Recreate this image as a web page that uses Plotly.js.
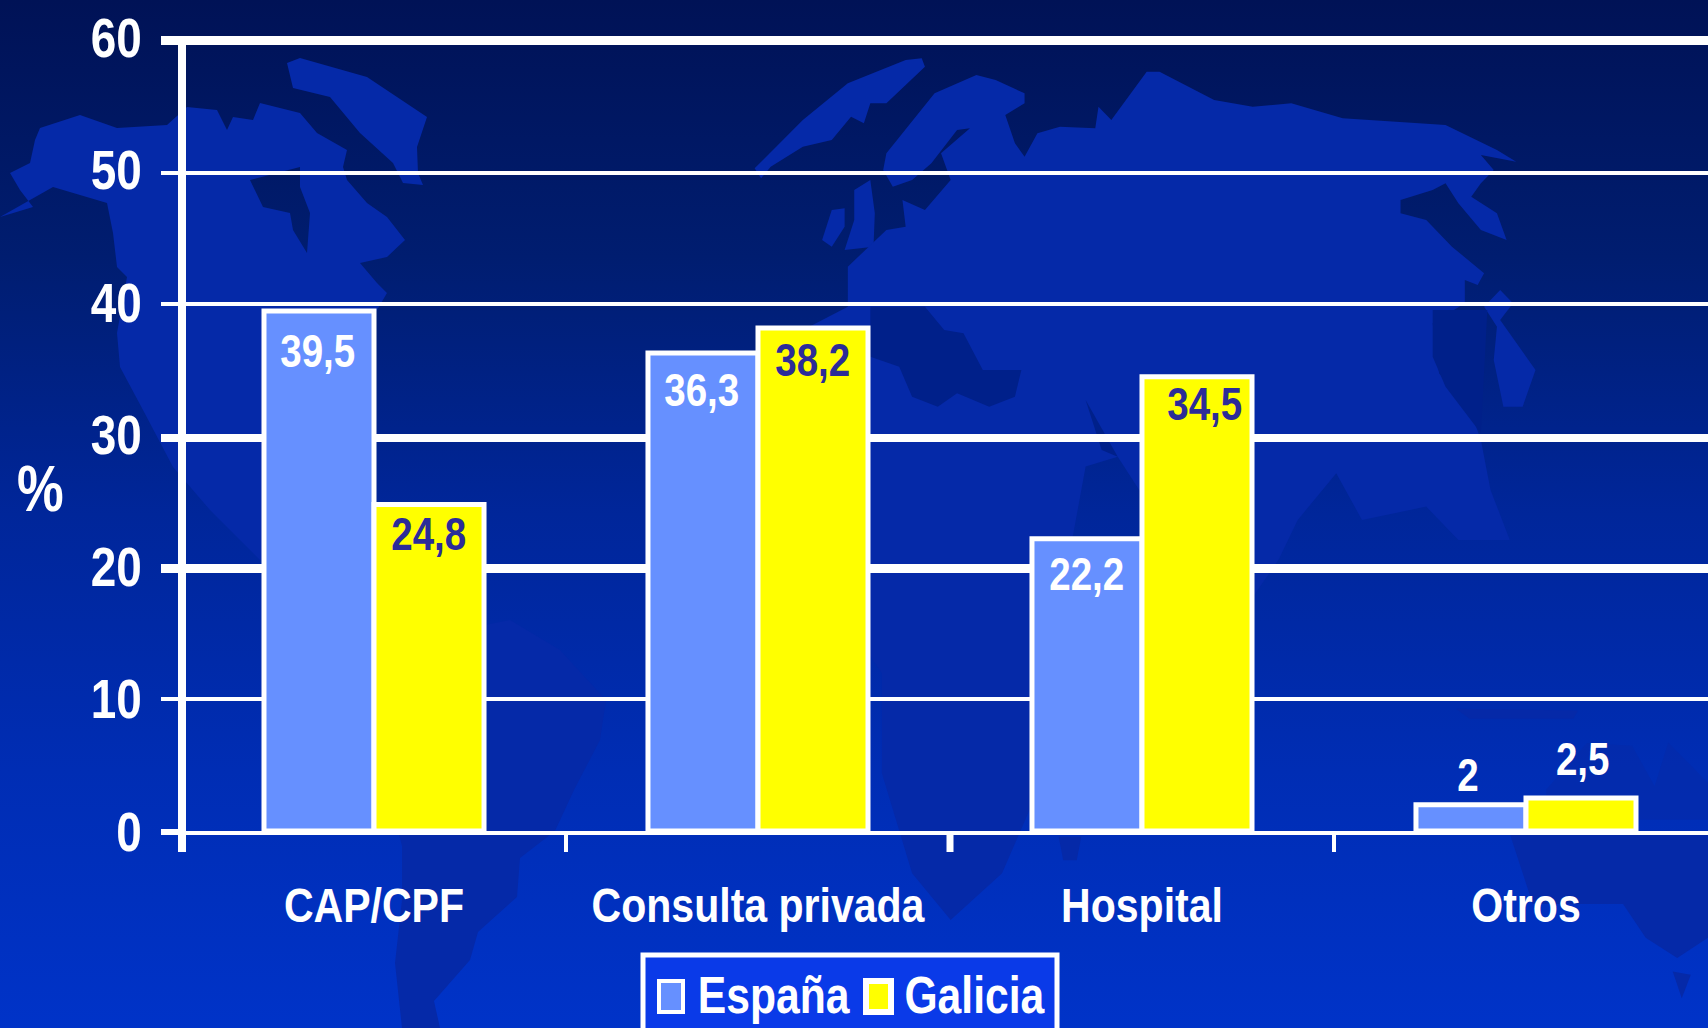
<!DOCTYPE html>
<html lang="es">
<head>
<meta charset="utf-8">
<title>Lugar de atención: España y Galicia</title>
<script src="https://cdn.plot.ly/plotly-3.0.1.min.js"></script>
<style>
  html, body { margin: 0; padding: 0; width: 1708px; height: 1028px; overflow: hidden; background: #0024a0; }
  #backdrop { position: absolute; left: 0; top: 0; }
  #chart { position: absolute; left: 0; top: 0; width: 1708px; height: 1028px; }
</style>
</head>
<body>
<!-- Decorative world map behind the chart -->
<svg id="backdrop" width="1708" height="1028" viewBox="0 0 1708 1028" xmlns="http://www.w3.org/2000/svg">
  <defs>
    <linearGradient id="sea" x1="0" y1="0" x2="0" y2="1">
      <stop offset="0" stop-color="#001256"/>
      <stop offset="0.25" stop-color="#001d70"/>
      <stop offset="0.5" stop-color="#00269a"/>
      <stop offset="0.75" stop-color="#002db4"/>
      <stop offset="1" stop-color="#0033c8"/>
    </linearGradient>
  </defs>
  <rect width="1708" height="1028" fill="url(#sea)"/>
  <g fill="#0529a8">
    <!-- Americas -->
    <path fill-rule="evenodd" d="M0,217 L33,207 L20,190 L10,173 L30,163 L35,140 L40,128 L80,115 L117,128 L167,125 L187,107 L217,110 L227,130 L233,117 L253,120 L260,103 L300,113 L317,133 L347,150 L343,167 L347,180 L367,203 L387,217 L405,240 L387,257 L360,263 L377,283 L387,293 L377,310 L350,350 L300,400 L270,440 L262,480 L300,530 L340,560 L260,560 L210,510 L173,467 L143,410 L120,367 L117,333 L127,277 L117,267 L113,233 L107,203 L53,187 Z M250,180 L300,167 L300,187 L310,213 L307,253 L293,230 L290,213 L263,207 Z"/>
    <path d="M287,63 L300,58 L367,77 L427,117 L417,147 L418,173 L423,185 L403,183 L393,163 L360,133 L330,97 L293,88 Z"/>
    <path d="M410,640 L510,620 L560,650 L606,700 L600,740 L574,790 L555,831 L520,858 L517,897 L478,932 L470,960 L434,1001 L440,1028 L402,1028 L395,963 L402,900 L402,846 L380,760 L390,690 Z"/>
    <!-- Old world, in the coordinates of a 1.556 × 3 grid anchored at 700,40 -->
    <g transform="translate(700,40) scale(0.6427,0.3333)">
      <path d="M320,60 L345,55 L350,80 L290,190 L265,190 L255,250 L235,230 L205,300 L160,320 L110,380 L95,415 L85,385 L160,240 L230,130 Z"/>
      <path d="M190,600 L205,510 L225,505 L225,560 L205,620 Z"/>
      <path d="M240,450 L265,420 L272,520 L270,620 L225,630 L240,540 Z"/>
      <path d="M285,390 L290,340 L365,160 L430,105 L460,120 L505,160 L505,190 L475,225 L490,310 L505,350 L525,280 L560,260 L615,265 L620,200 L640,240 L695,95 L715,95 L800,180 L860,200 L920,190 L1000,235 L1160,255 L1240,330 L1270,365 L1215,345 L1235,390 L1215,430 L1200,470 L1240,520 L1255,600 L1215,570 L1180,490 L1160,430 L1140,450 L1090,480 L1090,520 L1130,540 L1170,620 L1220,700 L1210,735 L1190,720 L1190,790 L1140,850 L1150,1000 L1200,1120 L1215,1200 L1230,1350 L1260,1500 L1180,1500 L1130,1400 L1030,1440 L990,1300 L930,1440 L900,1560 L850,1700 L780,1500 L700,1400 L650,1250 L600,1280 L560,1700 L540,2000 L515,2300 L470,2500 L390,2640 L330,2500 L283,2200 L283,1900 L175,1600 L100,1400 L80,1200 L120,1000 L170,860 L230,800 L230,680 L290,570 L320,560 L315,480 L350,510 L390,420 L375,340 L420,265 L400,270 L360,370 L330,420 L300,440 Z"/>
      <path d="M1245,750 L1265,790 L1245,840 L1300,990 L1280,1100 L1250,1100 L1235,960 L1240,860 L1220,800 Z"/>
    </g>
    <!-- Inland seas and gulfs, shown in the deeper tone of the upper map -->
    <g fill="#00208a" transform="translate(700,40) scale(0.6427,0.3333)">
      <path d="M265,800 L350,800 L380,870 L410,880 L440,990 L500,990 L490,1070 L450,1100 L400,1060 L370,1100 L330,1070 L310,980 L265,950 Z"/>
      <path d="M1140,810 L1225,810 L1215,1180 L1160,1040 L1140,950 Z"/>
      <path d="M600,1080 L650,1250 L625,1230 Z"/>
    </g>
    <!-- Islands and Oceania, in a 2.215 × 2.97 grid anchored at 1000,500 -->
    <g fill="#0529a8" transform="translate(1000,500) scale(0.4515,0.3367)">
      <path d="M130,1000 L180,1000 L170,1070 L140,1070 Z"/>
      <path d="M1130,995 L1568,995 L1568,1300 L1500,1360 L1430,1300 L1380,1200 L1180,1200 Z"/>
      <path d="M1490,1400 L1530,1410 L1510,1480 Z"/>
      <path d="M1210,860 L1300,722 L1400,730 L1450,850 L1480,720 L1568,840 L1568,950 L1210,950 Z" opacity="0.6"/>
      <path d="M1010,620 L1280,625 L1270,650 L1040,650 Z"/>
    </g>
  </g>
</svg>
<div id="chart"></div>
<script>
// Share of respondents (%) by place of care
const categories = ['CAP/CPF', 'Consulta privada', 'Hospital', 'Otros'];
const espana = [39.5, 36.3, 22.2, 2];
const galicia = [24.8, 38.2, 34.5, 2.5];
const yTicks = [0, 10, 20, 30, 40, 50, 60];
const seriesNames = ['España', 'Galicia'];

// Page geometry of the plot box
const W = 1708, H = 1028, L = 186, T = 41, B = 831;
const plotW = W - L, plotH = B - T;
const px = v => (v - L) / plotW;
const py = v => (B - v) / plotH;

const BLUE = '#6690ff', YELLOW = '#ffff00', WHITE = '#ffffff', INK = '#2c2c98';
const FONT = '"Liberation Sans", Arial, sans-serif';

const bar = (name, y, color) => ({
  type: 'bar', name, x: categories, y,
  marker: { color, line: { color: WHITE, width: 5 } },
  hoverinfo: 'x+y'
});

// Value labels: horizontal and vertical nudges per series, in pixels
const labelNudge = [
  { dx: [-57, -57, -55, -58], dy: [-40, -36, -35, 30], color: [WHITE, WHITE, WHITE, WHITE] },
  { dx: [54, 54, 63, 57], dy: [-29, -31, -27, 40], color: [INK, INK, INK, WHITE] }
];
const valueLabels = [espana, galicia].flatMap((vals, s) => vals.map((v, i) => ({
  x: i, y: v, xref: 'x', yref: 'y',
  text: String(v).replace('.', ','),
  xshift: labelNudge[s].dx[i], yshift: labelNudge[s].dy[i],
  xanchor: 'center', yanchor: 'middle', showarrow: false,
  font: { family: FONT, size: 47, weight: 'bold', color: labelNudge[s].color[i] }
})));

const line = (x0, y0, x1, y1, width, refs) => Object.assign({
  type: 'line', xref: 'paper', yref: 'paper', x0, y0, x1, y1,
  line: { color: WHITE, width }, layer: 'below'
}, refs || {});

// Rules that are heavier than the regular grid, plus the axis stem
const shapes = [
  line(px(161), py(40.5), 1, py(40.5), 9),
  line(px(161), py(438), 1, py(438), 8),
  line(px(161), py(568.5), 1, py(568.5), 9),
  line(px(161), py(833), 1, py(833), 4),
  line(px(182), py(852), px(182), py(36), 8),
  line(1.5, 0, 1.5, py(852), 7, { xref: 'x' }),
  // Legend frame and swatches
  { type: 'rect', xref: 'paper', yref: 'paper', x0: px(643), x1: px(1057), y0: py(955), y1: py(1045),
    fillcolor: '#0a3ae8', line: { color: WHITE, width: 5 }, layer: 'above' },
  { type: 'rect', xref: 'paper', yref: 'paper', x0: px(659), x1: px(683), y0: py(981), y1: py(1012),
    fillcolor: BLUE, line: { color: WHITE, width: 4 }, layer: 'above' },
  { type: 'rect', xref: 'paper', yref: 'paper', x0: px(866), x1: px(891), y0: py(981), y1: py(1012),
    fillcolor: YELLOW, line: { color: WHITE, width: 6 }, layer: 'above' }
];

const plainText = (text, x, y, size) => ({
  xref: 'paper', yref: 'paper', x: px(x), y: py(y), text, showarrow: false,
  xanchor: 'center', yanchor: 'middle',
  font: { family: FONT, size, weight: 'bold', color: WHITE }
});

const annotations = valueLabels.concat([
  plainText('%', 40, 489, 64),
  plainText(seriesNames[0], 773.5, 995, 52),
  plainText(seriesNames[1], 974.5, 995, 52)
]);

const layout = {
  width: W, height: H,
  margin: { l: L, r: 0, t: T, b: H - B, pad: 0 },
  paper_bgcolor: 'rgba(0,0,0,0)', plot_bgcolor: 'rgba(0,0,0,0)',
  font: { family: FONT, color: WHITE },
  barmode: 'group', bargap: 0.427, bargroupgap: 0,
  showlegend: false,
  xaxis: {
    type: 'category', categoryorder: 'array', categoryarray: categories,
    range: [-0.4896, 3.474], tickson: 'boundaries', tickangle: 0,
    ticks: 'outside', ticklen: 17, tickwidth: 4, tickcolor: WHITE,
    showline: true, linecolor: WHITE, linewidth: 4, showgrid: false,
    ticklabelstandoff: 29,
    tickfont: { family: FONT, size: 48, weight: 'bold', color: WHITE }
  },
  yaxis: {
    range: [0, 60], tickmode: 'array', tickvals: yTicks,
    ticks: 'outside', ticklen: 17, tickwidth: 4, tickcolor: WHITE,
    showline: true, linecolor: WHITE, linewidth: 8,
    showgrid: true, gridcolor: WHITE, gridwidth: 4, zeroline: false,
    ticklabelstandoff: 8,
    tickfont: { family: FONT, size: 56, weight: 'bold', color: WHITE }
  },
  shapes, annotations
};

// The type is set condensed: squeeze each text horizontally about its anchor
function condense(selector, pin, factor, lift) {
  document.querySelectorAll(selector).forEach(el => {
    const box = el.getBBox();
    const cx = box.x + box.width * pin;
    const base = el.getAttribute('transform') || '';
    const dy = lift ? -lift(el) : 0;
    el.setAttribute('transform', `${base} translate(${cx} ${dy}) scale(${factor} 1) translate(${-cx} 0)`);
  });
}

Plotly.newPlot('chart', [bar(seriesNames[0], espana, BLUE), bar(seriesNames[1], galicia, YELLOW)], layout, { displayModeBar: false, responsive: false })
  .then(() => {
    condense('#chart .xtick text', 0.5, 0.855);
    // Upper value-axis numerals sit slightly above their rules
    condense('#chart .ytick text', 1, 0.82, el => parseFloat(el.textContent) * 0.06);
    condense('#chart .annotation-text', 0.5, 0.82);
  });
</script>
</body>
</html>
